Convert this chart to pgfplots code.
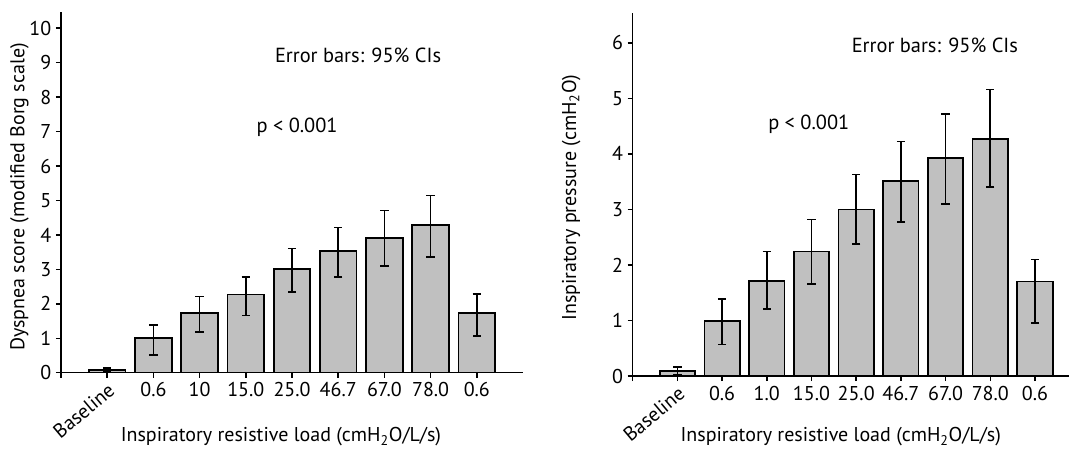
\documentclass[border=0pt]{standalone}
\usepackage{fontspec}
\setmainfont{PT Sans}
\usepackage{pgfplots}
\pgfplotsset{compat=1.18}
\definecolor{barfill}{RGB}{192,192,192}

\pgfplotsset{
  loadaxis/.style={
    scale only axis,
    anchor=south west,
    axis x line=bottom,
    axis y line=left,
    axis line style={-, line width=1.1pt},
    tick align=outside,
    major tick length=3.8pt,
    every tick/.style={black, line width=1.1pt},
    ybar, bar width=0.79,
    xmin=0, ymin=0,
    tick label style={font=\fontsize{15}{17}\selectfont},
    label style={font=\fontsize{15}{17}\selectfont},
    /pgf/number format/assume math mode=true,
    xtick={0,2,3,4,5,6,7,8,9},
    extra x ticks={1},
    extra x tick labels={Baseline},
    extra x tick style={tick label style={rotate=40, anchor=north east, inner sep=2pt}},
    xlabel={Inspiratory resistive load (cmH\textsubscript{2}O/L/s)},
  },
  loadbars/.style={
    fill=barfill, draw=black, line width=1.3pt,
    error bars/.cd, y dir=both, y explicit,
    error bar style={line width=1.2pt, black},
    error mark options={rotate=90, mark size=3.1pt, line width=1.2pt, black},
  },
}

\begin{document}
\begin{tikzpicture}
% left: dyspnea score
\begin{axis}[loadaxis,
    at={(45.75pt,57.98pt)}, width=346.5pt, height=270.75pt,
    xmax=10, ymax=10.48, ytick={0,1,...,10},
    xticklabels={{},0.6,10,15.0,25.0,46.7,67.0,78.0,0.6},
    ylabel={Dyspnea score (modified Borg scale)},
    xlabel style={at={(axis description cs:0.476,-0.178)}, anchor=center},
    ylabel style={at={(axis description cs:-0.090,0.487)}, anchor=center},
]
\addplot[loadbars] coordinates {
    (1,0.08) += (0,0.065) -= (0,0.065)
    (2,1.00) += (0,0.38) -= (0,0.48)
    (3,1.74) += (0,0.47) -= (0,0.55)
    (4,2.27) += (0,0.50) -= (0,0.61)
    (5,3.00) += (0,0.61) -= (0,0.65)
    (6,3.53) += (0,0.68) -= (0,0.76)
    (7,3.90) += (0,0.81) -= (0,0.80)
    (8,4.29) += (0,0.85) -= (0,0.93)
    (9,1.73) += (0,0.56) -= (0,0.67)
};
\node[font=\fontsize{15.3}{17}\selectfont] at (axis cs:6.43,9.2) {Error bars: 95\% CIs};
\node[font=\fontsize{15.3}{17}\selectfont] at (axis cs:5.11,7.13) {p < 0.001};
\end{axis}

% right: inspiratory pressure
\begin{axis}[loadaxis,
    at={(474.5pt,55.5pt)}, width=327.2pt, height=272pt,
    xmax=9.76, ymax=6.53, ytick={0,1,...,6},
    xticklabels={{},0.6,1.0,15.0,25.0,46.7,67.0,78.0,0.6},
    ylabel={Inspiratory pressure (cmH\textsubscript{2}O)},
    xlabel style={at={(axis description cs:0.477,-0.168)}, anchor=center},
    ylabel style={at={(axis description cs:-0.141,0.492)}, anchor=center},
]
\addplot[loadbars] coordinates {
    (1,0.09) += (0,0.075) -= (0,0.075)
    (2,0.99) += (0,0.40) -= (0,0.425)
    (3,1.71) += (0,0.53) -= (0,0.505)
    (4,2.24) += (0,0.58) -= (0,0.58)
    (5,3.00) += (0,0.63) -= (0,0.62)
    (6,3.51) += (0,0.71) -= (0,0.74)
    (7,3.93) += (0,0.79) -= (0,0.83)
    (8,4.27) += (0,0.89) -= (0,0.87)
    (9,1.70) += (0,0.40) -= (0,0.75)
};
\node[font=\fontsize{15.3}{17}\selectfont] at (axis cs:6.76,5.96) {Error bars: 95\% CIs};
\node[font=\fontsize{15.3}{17}\selectfont] at (axis cs:3.94,4.53) {p < 0.001};
\end{axis}
\pgfresetboundingbox
\path[use as bounding box] (0,0) rectangle (801.75pt,337.5pt);
\end{tikzpicture}
\end{document}
